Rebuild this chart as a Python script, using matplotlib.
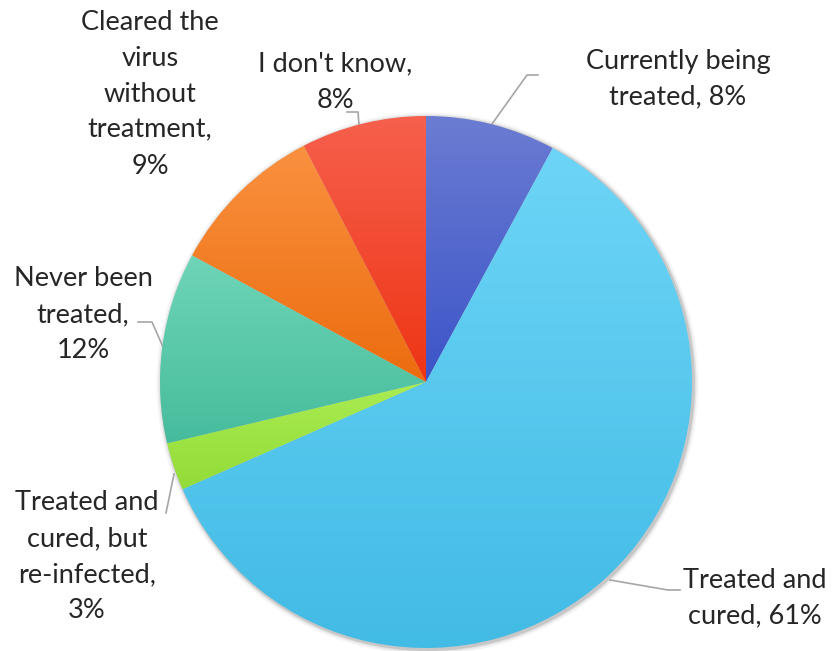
import numpy as np
import matplotlib
matplotlib.use("Agg")
import matplotlib.pyplot as plt
from matplotlib.colors import to_rgb
from matplotlib.patches import Circle

# data (clockwise from 12 o'clock)
categories = ["Currently being treated", "Treated and cured",
              "Treated and cured, but re-infected", "Never been treated",
              "Cleared the virus without treatment", "I don't know"]
values = [7.9, 60.5, 2.9, 11.6, 9.5, 7.6]
labels = ["Currently being\ntreated, 8%", "Treated and\ncured, 61%",
          "Treated and\ncured, but\nre-infected,\n3%", "Never been\ntreated,\n12%",
          "Cleared the\nvirus\nwithout\ntreatment,\n9%", "I don't know,\n8%"]

# gradient colours: top, bottom
top_colors = ["#6b7cd2", "#6dd5f7", "#aaec52", "#6fd5b8", "#fa9140", "#f6604d"]
bot_colors = ["#3c54c8", "#42bbe5", "#93dc38", "#46bc9c", "#ec6c0e", "#ee3414"]

W, H = 833, 651
cx, cy, R = 426, H - 382, 266

fig = plt.figure(figsize=(W / 100, H / 100), dpi=100)
ax = fig.add_axes([0, 0, 1, 1])

# soft shadow
for dr, a in [(5, 0.04), (3, 0.07), (1.5, 0.12)]:
    ax.add_patch(Circle((cx + 1.5, cy - 1.5), R + dr, color="black", alpha=a, lw=0, zorder=0))

wedges, _ = ax.pie(values, startangle=90, counterclock=False, radius=R,
                   center=(cx, cy), colors=["none"] * len(values),
                   wedgeprops=dict(linewidth=0))

for w, c1, c2 in zip(wedges, top_colors, bot_colors):
    ext = w.get_path().get_extents()
    t = np.linspace(0, 1, 256)[:, None, None]
    grad = (1 - t) * np.array(to_rgb(c1)) + t * np.array(to_rgb(c2))
    im = ax.imshow(grad, extent=(ext.x0, ext.x1, ext.y0, ext.y1),
                   origin="upper", aspect="auto", interpolation="bilinear", zorder=1)
    im.set_clip_path(w)
    w.set_zorder(2)

# label positions (pixels from top-left) and leader lines
label_pos = [(678, 79), (755, 598), (87, 557), (83, 315), (150, 94), (335, 82)]
leaders = [
    [(492, 124), (527, 75), (538, 75)],
    [(610, 580), (668, 590), (680, 590)],
    [(174, 474), (166, 513)],
    [(138, 322), (152, 322), (163, 347)],
    None,
    [(359, 125), (358, 112), (347, 112)],
]

for lab, (x, y), ld in zip(labels, label_pos, leaders):
    ax.text(x, H - y, lab, ha="center", va="center", fontsize=19.5,
            family="Lato", color="#262626", linespacing=1.55)
    if ld is not None:
        xs = [p[0] for p in ld]
        ys = [H - p[1] for p in ld]
        ax.plot(xs, ys, color="#a6a6a6", lw=1.2, zorder=0.5)

ax.set_xlim(0, W)
ax.set_ylim(0, H)
ax.set_aspect("auto")
ax.axis("off")

fig.savefig("out.png", dpi=100, facecolor="white")
